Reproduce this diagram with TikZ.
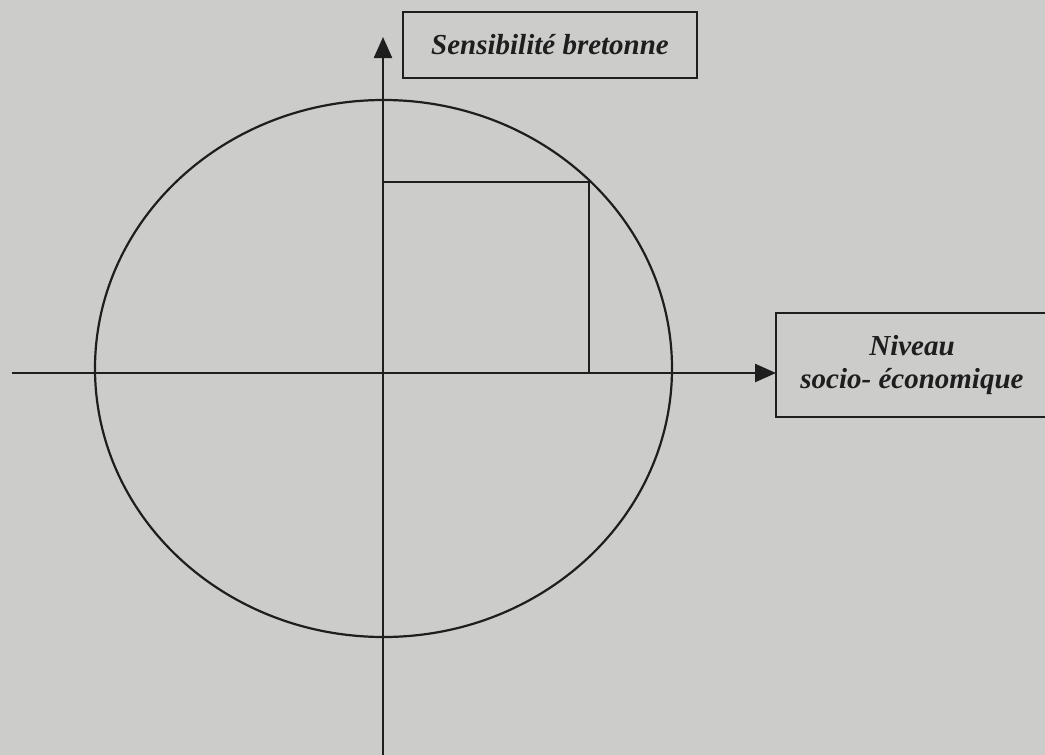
\documentclass[tikz,border=0pt]{standalone}
\usepackage{fontspec}
\setmainfont{Liberation Serif}
\usetikzlibrary{arrows.meta}
\definecolor{paper}{RGB}{204,204,202}
\definecolor{ink}{RGB}{30,30,30}
\begin{document}
\begin{tikzpicture}[x=1pt,y=-1pt,
  axis/.style={draw=ink,line width=2.4pt,-{Triangle[length=21pt,width=18pt]}},
  shape line/.style={draw=ink,line width=2.2pt},
  labelbox/.style={draw=ink,line width=2.2pt,rectangle,inner sep=0pt,
     font=\fontsize{29}{33}\selectfont\bfseries\itshape,text=ink,align=center}]
\useasboundingbox (0,0) rectangle (1045,755);
\clip (0,0) rectangle (1045,755);
\fill[paper] (0,0) rectangle (1045,755);
% axes
\coordinate (O) at (383,373);
\coordinate (ytop) at (383,37);
\coordinate (ybot) at (383,755);
\coordinate (xleft) at (12,373);
\coordinate (xright) at (776,373);
\draw[axis] (ybot) -- (ytop);
\draw[axis] (xleft) -- (xright);
% ellipse
\coordinate (C) at (383.5,368.5);
\draw[shape line] (C) ellipse [x radius=288.5, y radius=268.5];
% rectangle in first quadrant
\coordinate (r1) at (383,182);
\coordinate (r2) at (589,182);
\coordinate (r3) at (589,373);
\draw[shape line] (r1) -- (r2) -- (r3);
% label boxes
\node[labelbox,minimum width=294pt,minimum height=66pt] (sens) at (550,45) {Sensibilité bretonne};
\node[labelbox,minimum width=272pt,minimum height=104pt] (niv) at (912,365) {Niveau\\socio- économique};
\end{tikzpicture}
\end{document}
